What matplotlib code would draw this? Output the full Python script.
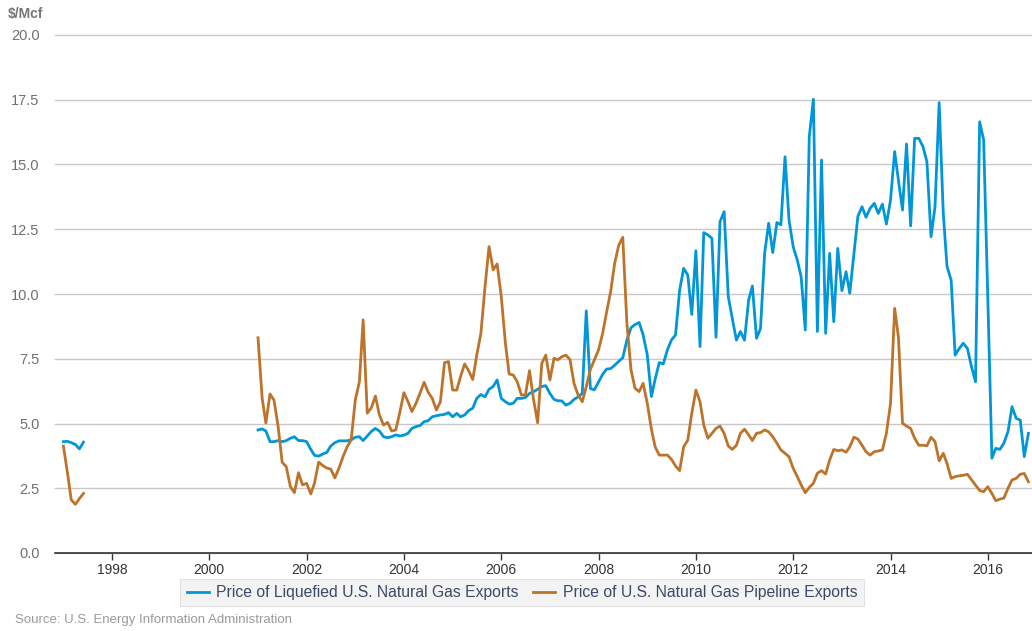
#!/usr/bin/env python3
"""U.S. natural gas export prices: LNG vs pipeline (monthly, $/Mcf)."""

import matplotlib
matplotlib.use("Agg")
import matplotlib.dates as mdates
import matplotlib.pyplot as plt
import pandas as pd

plt.rcParams["font.family"] = ["Liberation Sans", "DejaVu Sans"]

# Monthly values. Two segments: Jan-Jun 1997, then Jan 2001 - Nov 2016.
LNG_1997 = [4.30, 4.31, 4.26, 4.19, 4.02, 4.28]
PIPE_1997 = [4.13, 3.08, 2.05, 1.88, 2.10, 2.30]

LNG_2001 = [
    4.75, 4.79, 4.71, 4.30, 4.30, 4.34, 4.30, 4.34, 4.43, 4.49, 4.34, 4.34,  # 2001
    4.30, 4.00, 3.77, 3.74, 3.82, 3.88, 4.13, 4.26, 4.33, 4.33, 4.33, 4.37,  # 2002
    4.47, 4.49, 4.34, 4.52, 4.69, 4.81, 4.71, 4.49, 4.45, 4.49, 4.56, 4.52,  # 2003
    4.55, 4.62, 4.81, 4.88, 4.92, 5.07, 5.11, 5.26, 5.30, 5.33, 5.35, 5.42,  # 2004
    5.26, 5.39, 5.26, 5.33, 5.50, 5.59, 5.97, 6.12, 6.03, 6.32, 6.43, 6.68,  # 2005
    5.97, 5.84, 5.75, 5.78, 5.97, 5.97, 6.00, 6.16, 6.23, 6.32, 6.43, 6.46,  # 2006
    6.16, 5.93, 5.88, 5.87, 5.71, 5.78, 5.93, 6.03, 6.16, 9.35, 6.35, 6.30,  # 2007
    6.60, 6.90, 7.10, 7.12, 7.25, 7.40, 7.54, 8.22, 8.70, 8.82, 8.90, 8.42,  # 2008
    7.65, 6.04, 6.71, 7.35, 7.30, 7.84, 8.22, 8.42, 10.15, 10.99, 10.73, 9.21,  # 2009
    11.67, 7.97, 12.37, 12.28, 12.15, 8.33, 12.79, 13.18, 9.90, 9.06, 8.22, 8.55,  # 2010
    8.22, 9.77, 10.31, 8.29, 8.67, 11.57, 12.73, 11.60, 12.76, 12.67, 15.30, 12.86,  # 2011
    11.83, 11.31, 10.67, 8.61, 16.07, 17.52, 8.55, 15.17, 8.48, 11.57, 8.93, 11.76,  # 2012
    10.13, 10.86, 10.03, 11.55, 13.00, 13.37, 12.96, 13.31, 13.50, 13.11, 13.47, 12.70,  # 2013
    13.63, 15.50, 14.40, 13.24, 15.79, 12.63, 16.01, 16.01, 15.70, 15.11, 12.21, 13.37,  # 2014
    17.39, 13.11, 11.06, 10.54, 7.64, 7.90, 8.10, 7.90, 7.19, 6.61, 16.65, 15.95,  # 2015
    9.90, 3.66, 4.04, 4.00, 4.24, 4.69, 5.65, 5.20, 5.13, 3.72, 4.62,  # 2016
]
PIPE_2001 = [
    8.31, 5.98, 5.02, 6.14, 5.90, 4.88, 3.51, 3.33, 2.56, 2.33, 3.10, 2.63,  # 2001
    2.69, 2.28, 2.70, 3.51, 3.38, 3.28, 3.24, 2.90, 3.28, 3.72, 4.10, 4.36,  # 2002
    5.90, 6.61, 9.00, 5.40, 5.60, 6.06, 5.33, 4.94, 5.04, 4.71, 4.75, 5.42,  # 2003
    6.19, 5.84, 5.46, 5.78, 6.17, 6.59, 6.21, 5.97, 5.52, 5.84, 7.35, 7.39,  # 2004
    6.29, 6.29, 6.81, 7.30, 7.04, 6.70, 7.64, 8.48, 10.28, 11.83, 10.93, 11.16,  # 2005
    9.90, 8.10, 6.91, 6.87, 6.61, 6.10, 6.10, 7.04, 5.90, 5.03, 7.32, 7.64,  # 2006
    6.68, 7.52, 7.46, 7.58, 7.64, 7.47, 6.55, 6.10, 5.84, 6.42, 7.09, 7.46,  # 2007
    7.84, 8.48, 9.28, 10.09, 11.18, 11.89, 12.19, 8.87, 7.07, 6.36, 6.23, 6.55,  # 2008
    5.78, 4.78, 4.10, 3.78, 3.78, 3.78, 3.62, 3.36, 3.18, 4.10, 4.36, 5.39,  # 2009
    6.29, 5.84, 4.94, 4.43, 4.62, 4.81, 4.90, 4.62, 4.13, 4.00, 4.16, 4.62,  # 2010
    4.78, 4.56, 4.34, 4.62, 4.65, 4.75, 4.68, 4.49, 4.24, 3.98, 3.85, 3.72,  # 2011
    3.27, 2.95, 2.63, 2.33, 2.53, 2.69, 3.08, 3.18, 3.05, 3.59, 4.00, 3.95,  # 2012
    3.98, 3.89, 4.10, 4.47, 4.40, 4.16, 3.91, 3.78, 3.91, 3.94, 3.98, 4.62,  # 2013
    5.78, 9.45, 8.35, 5.01, 4.90, 4.81, 4.43, 4.16, 4.16, 4.14, 4.47, 4.30,  # 2014
    3.56, 3.85, 3.46, 2.88, 2.95, 2.98, 3.00, 3.04, 2.83, 2.63, 2.41, 2.37,  # 2015
    2.56, 2.30, 2.02, 2.08, 2.12, 2.50, 2.82, 2.88, 3.04, 3.07, 2.75,  # 2016
]

LABELS = ["Price of Liquefied U.S. Natural Gas Exports",
          "Price of U.S. Natural Gas Pipeline Exports"]
COLORS = ["#0096d7", "#bd732a"]

W, H = 1032, 631
fig = plt.figure(figsize=(W / 100, H / 100), dpi=100)
ax = fig.add_axes([55 / W, 1 - 553 / H, 1 - 55 / W, (553 - 35) / H])

d97 = pd.date_range("1997-01-01", periods=len(LNG_1997), freq="MS")
d01 = pd.date_range("2001-01-01", periods=len(LNG_2001), freq="MS")

ax.plot(d97, LNG_1997, color=COLORS[0], lw=2.0)
ax.plot(d97, PIPE_1997, color=COLORS[1], lw=2.0)
l1, = ax.plot(d01, LNG_2001, color=COLORS[0], lw=2.0)
l2, = ax.plot(d01, PIPE_2001, color=COLORS[1], lw=2.0)

ax.set_xlim(pd.Timestamp("1996-10-30"), pd.Timestamp("2016-11-28"))
ax.set_ylim(0, 20)
ax.set_yticks([i * 2.5 for i in range(9)])
ax.yaxis.set_major_formatter(plt.FuncFormatter(lambda v, _: f"{v:.1f}"))
ax.xaxis.set_major_locator(mdates.YearLocator(2))
ax.xaxis.set_major_formatter(mdates.DateFormatter("%Y"))

for s in ["top", "right", "left"]:
    ax.spines[s].set_visible(False)
ax.spines["bottom"].set_color("#333333")
ax.spines["bottom"].set_linewidth(1.2)
ax.spines["bottom"].set_zorder(5)

ax.yaxis.grid(True, color="#c8c8c8", lw=1)
for gl in ax.get_ygridlines():
    gl.set_clip_on(False)
ax.set_axisbelow(True)
ax.tick_params(axis="y", length=0, pad=11, labelsize=10.5, labelcolor="#707070")
ax.tick_params(axis="x", length=5, width=1, color="#333333", pad=2,
               labelsize=10, labelcolor="#333333")

fig.text(8 / W, 1 - 14 / H, "$/Mcf", color="#777777", fontsize=10,
         fontweight="bold", va="center", ha="left")

leg = fig.legend([l1, l2], LABELS, loc="center", ncol=2,
                 bbox_to_anchor=(522 / W, 1 - 592.5 / H), fontsize=11.3,
                 frameon=True, fancybox=False, facecolor="#f0f0f0",
                 edgecolor="#dddddd", handlelength=1.4, handletextpad=0.5,
                 columnspacing=0.9, borderpad=0.4, borderaxespad=0,
                 labelcolor="#3a4a66")
leg.get_frame().set_linewidth(0.8)

fig.text(15 / W, 1 - 620 / H, "Source: U.S. Energy Information Administration",
         color="#9a9a9a", fontsize=9.5, va="center", ha="left")

fig.savefig("out.png", dpi=100)
